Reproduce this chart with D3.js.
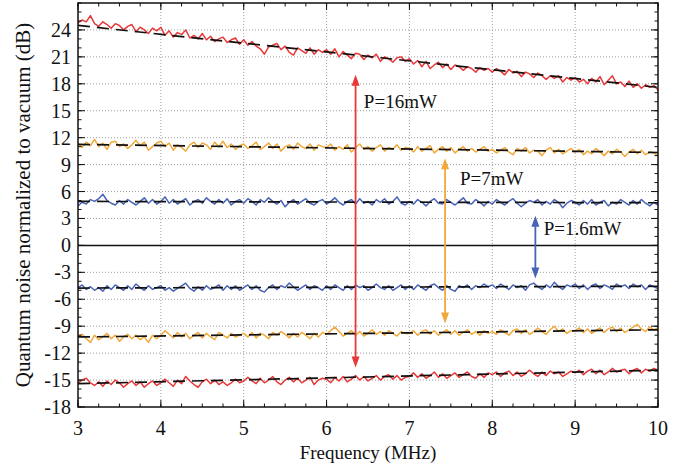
<!DOCTYPE html>
<html>
<head>
<meta charset="UTF-8">
<title>Quantum noise vs frequency</title>
<script src="https://d3js.org/d3.v7.min.js"></script>
<style>
  body { margin: 0; background: #fff; }
  text { font-family: "Liberation Serif", "DejaVu Serif", serif; fill: #111; }
</style>
</head>
<body>
<svg id="chart"></svg>
<script>
// traces sampled every 0.05 MHz from 3 to 10 MHz (141 points each)
const F_START = 3, F_STEP = 0.05;

const redUpper = [
  24.8, 25.1, 24.9, 25.6, 24.7, 24.4, 24.9, 24.6, 24.2, 24.7, 24.5, 24.0, 24.4, 24.6, 23.8, 24.3, 24.0, 23.6, 24.2, 23.9,
  24.3, 23.4, 23.9, 23.2, 23.7, 23.5, 24.0, 23.1, 23.4, 23.0, 23.6, 22.9, 23.3, 22.7, 23.0, 23.2, 22.6, 22.9, 23.1, 22.4,
  22.9, 22.3, 22.7, 22.2, 21.9, 21.3, 22.1, 22.3, 22.5, 21.8, 22.2, 21.5, 21.2, 22.0, 21.7, 21.4, 22.0, 21.3, 21.8, 21.5,
  21.8, 21.3, 21.9, 21.0, 21.6, 21.2, 20.8, 21.4, 21.3, 20.7, 21.2, 20.9, 21.3, 20.5, 21.0, 20.8, 20.4, 20.9, 21.0, 20.5,
  20.8, 20.2, 20.6, 19.9, 20.5, 19.7, 20.1, 20.4, 19.8, 20.2, 19.6, 20.1, 19.9, 19.5, 19.9, 19.7, 19.3, 19.8, 19.5, 19.7,
  19.3, 19.7, 19.4, 19.0, 19.6, 19.2, 19.4, 18.8, 19.3, 19.1, 18.7, 19.2, 18.9, 18.5, 18.9, 18.6, 18.9, 18.2, 18.7, 18.4,
  18.7, 18.2, 18.5, 18.0, 18.6, 18.2, 18.8, 17.9, 18.4, 18.9, 18.0, 18.2, 17.7, 18.3, 17.6, 18.0, 17.5, 17.9, 17.6, 17.8, 17.3
];
const orangeUpper = [
  11.4, 10.9, 11.5, 11.1, 11.8, 11.0, 11.4, 10.7, 11.5, 11.6, 11.0, 11.3, 10.8, 11.2, 11.7, 11.1, 11.5, 10.6, 11.0, 11.4,
  11.6, 11.0, 11.4, 10.6, 11.2, 10.9, 10.5, 11.2, 11.5, 10.9, 11.4, 11.2, 10.7, 11.5, 11.0, 11.6, 10.9, 11.3, 10.7, 11.1,
  11.3, 10.8, 11.1, 11.5, 10.7, 11.0, 11.4, 10.8, 11.3, 10.5, 11.0, 11.2, 10.7, 11.4, 11.0, 10.8, 11.3, 10.6, 11.2, 11.0,
  10.9, 11.3, 10.6, 11.0, 10.7, 11.2, 10.4, 10.9, 11.3, 10.7, 11.0, 10.5, 10.9, 11.2, 10.5, 10.9, 10.7, 11.2, 10.6, 10.9,
  10.8, 10.4, 11.0, 10.5, 10.8, 11.1, 10.3, 10.7, 11.0, 10.5, 10.9, 10.3, 10.7, 11.0, 10.5, 10.8, 10.4, 10.7, 11.0, 10.5,
  10.7, 10.3, 10.6, 10.9, 10.4, 10.1, 10.8, 10.5, 10.9, 10.3, 10.6, 10.5, 10.0, 10.6, 10.9, 10.3, 10.7, 10.2, 10.5, 10.8,
  10.4, 10.7, 10.1, 10.5, 10.2, 10.8, 10.4, 10.0, 10.5, 10.2, 10.7, 10.4, 9.9, 10.4, 10.7, 10.2, 10.6, 10.1, 10.4, 10.3, 10.0
];
const blueUpper = [
  4.4, 4.8, 4.6, 5.1, 4.9, 5.2, 5.7, 5.0, 4.7, 4.5, 5.0, 4.6, 5.1, 4.8, 4.5, 4.9, 5.3, 4.7, 5.1, 4.6,
  4.9, 5.4, 4.7, 5.1, 4.6, 4.9, 5.2, 4.5, 4.9, 5.1, 4.7, 5.3, 4.9, 4.6, 5.1, 4.7, 5.2, 4.5, 4.9, 5.1,
  4.7, 5.2, 4.9, 4.5, 5.1, 4.8, 5.3, 4.9, 4.6, 5.0, 4.3, 4.8, 5.1, 4.6, 4.9, 5.2, 4.7, 4.5, 4.9, 5.1,
  4.6, 4.9, 5.3, 4.8, 4.5, 4.9, 5.1, 4.6, 5.2, 4.7, 4.9, 4.5, 5.1, 4.8, 5.2, 4.6, 4.9, 5.4, 4.7, 4.5,
  4.9, 4.6, 5.1, 4.8, 4.4, 4.9, 5.2, 4.7, 4.6, 5.1, 4.8, 4.5, 4.9, 5.3, 4.7, 4.6, 5.1, 4.8, 4.4, 4.9,
  4.6, 5.1, 4.8, 4.5, 4.9, 5.2, 4.7, 4.3, 4.7, 5.0, 4.8, 5.1, 4.5, 4.9, 4.6, 5.1, 4.8, 4.2, 4.7, 5.0,
  4.8, 4.5, 5.0, 4.6, 5.1, 4.5, 4.8, 5.0, 4.4, 4.8, 4.6, 5.1, 4.8, 4.5, 5.0, 4.6, 5.1, 4.7, 4.4, 4.8, 4.5
];
const blueLower = [
  -4.7, -4.4, -4.9, -4.6, -5.0, -4.7, -5.1, -4.5, -4.9, -4.4, -4.7, -5.0, -4.5, -4.9, -4.3, -4.7, -5.0, -4.5, -4.9, -4.7,
  -4.5, -5.0, -4.7, -5.1, -4.8, -4.5, -4.2, -4.8, -5.1, -4.6, -5.0, -4.5, -4.9, -4.7, -4.4, -5.0, -4.5, -4.9, -4.5, -5.0,
  -4.7, -4.4, -4.9, -4.5, -5.0, -5.2, -4.7, -4.4, -4.9, -4.5, -4.7, -4.2, -4.6, -5.0, -4.7, -4.4, -4.9, -4.5, -4.7, -5.0,
  -4.5, -4.9, -4.4, -4.7, -5.0, -4.5, -4.9, -4.4, -4.7, -4.5, -5.0, -4.7, -4.3, -4.7, -4.9, -4.5, -5.0, -4.7, -4.4, -4.9,
  -4.5, -4.9, -4.4, -4.7, -5.0, -4.5, -4.3, -4.7, -5.0, -4.5, -4.9, -5.1, -4.5, -4.7, -4.4, -4.9, -4.5, -4.7, -4.3, -4.6,
  -4.4, -4.8, -4.3, -4.6, -4.9, -4.4, -4.7, -4.5, -5.0, -4.4, -4.2, -4.6, -4.9, -4.4, -4.7, -4.1, -4.6, -4.9, -4.4, -4.6,
  -4.3, -4.8, -4.4, -4.9, -4.5, -4.3, -4.8, -4.4, -4.6, -4.9, -4.3, -4.6, -4.4, -4.8, -4.3, -4.6, -4.4, -4.9, -4.4, -4.6, -4.8
];
const orangeLower = [
  -10.2, -9.9, -10.4, -10.8, -10.0, -10.5, -10.2, -9.8, -10.4, -10.0, -10.7, -10.2, -9.9, -10.4, -10.0, -10.5, -10.2, -10.8, -10.0, -10.4,
  -10.0, -9.5, -9.9, -10.3, -9.7, -10.2, -9.8, -10.4, -10.0, -9.7, -10.3, -9.8, -10.2, -10.5, -9.7, -10.0, -10.3, -9.8, -10.2, -10.0,
  -9.8, -10.2, -9.7, -10.3, -9.8, -10.0, -10.4, -9.7, -10.0, -9.6, -9.9, -10.3, -9.8, -10.2, -9.7, -10.0, -10.4, -9.8, -10.2, -9.7,
  -9.9, -9.5, -9.1, -9.6, -10.1, -9.8, -9.5, -10.0, -9.6, -10.1, -9.8, -9.4, -9.9, -9.6, -10.0, -9.5, -9.8, -10.1, -9.6, -9.8,
  -9.8, -9.5, -10.0, -9.6, -9.4, -9.9, -9.5, -10.0, -9.7, -9.4, -9.9, -9.5, -10.0, -9.7, -9.4, -9.9, -9.6, -10.0, -9.5, -9.8,
  -9.6, -9.9, -9.4, -9.7, -10.0, -9.5, -9.3, -9.8, -9.4, -9.9, -9.6, -9.2, -9.6, -9.9, -9.4, -9.0, -9.6, -9.3, -9.8, -9.5,
  -9.5, -9.2, -9.7, -9.3, -9.8, -9.5, -9.2, -9.7, -9.3, -9.1, -9.6, -9.2, -9.7, -9.4, -9.1, -8.8, -9.3, -9.6, -9.1, -9.4, -9.2
];
const redLower = [
  -15.3, -15.0, -14.8, -15.3, -15.6, -15.2, -15.7, -15.1, -15.5, -15.0, -15.3, -15.8, -15.4, -15.1, -15.6, -15.2, -15.8, -15.4, -15.1, -15.6,
  -15.3, -14.9, -15.3, -15.7, -15.0, -15.4, -14.6, -15.1, -15.5, -15.8, -15.2, -14.9, -15.4, -15.0, -15.5, -15.2, -15.6, -15.3, -14.9, -15.3,
  -15.1, -14.7, -15.1, -15.4, -14.8, -15.3, -15.0, -14.6, -15.2, -15.5, -15.0, -14.7, -15.2, -14.8, -15.3, -15.0, -14.7, -15.5, -15.0, -14.8,
  -14.9, -15.3, -14.7, -15.1, -14.6, -15.2, -14.9, -14.5, -15.0, -14.6, -15.1, -14.8, -14.5, -15.0, -14.6, -14.4, -14.9, -14.5, -15.0, -14.7,
  -14.6, -14.2, -14.7, -14.3, -14.8, -14.5, -14.1, -14.7, -14.3, -14.8, -14.5, -14.2, -14.7, -14.4, -14.1, -14.6, -14.8, -14.3, -14.7, -14.2,
  -14.4, -14.1, -14.6, -14.2, -14.0, -14.5, -14.1, -14.6, -14.3, -13.9, -14.3, -14.6, -14.1, -14.5, -14.0, -14.3, -14.1, -14.6, -14.3, -14.0,
  -14.2, -13.9, -14.4, -14.0, -13.8, -14.3, -13.9, -14.4, -14.1, -13.7, -14.1, -13.9, -13.8, -14.3, -13.9, -13.7, -14.2, -13.8, -14.0, -13.7, -13.9
];

// straight fit lines: value at 3 MHz and at 10 MHz
const fitStart = [24.5, 11.25, 4.9, -4.75, -10.2, -15.4];
const fitEnd   = [17.6, 10.35, 4.75, -4.55, -9.4, -13.9];

const traces = [redUpper, orangeUpper, blueUpper, blueLower, orangeLower, redLower];
const traceColors = ["#e8383a", "#f2a93b", "#4a64b5", "#4a64b5", "#f2a93b", "#e8383a"];

// double arrows and their labels
const arrowFreq   = [6.35, 7.43, 8.52];
const arrowTop    = [19.0, 9.7, 3.3];
const arrowBottom = [-13.6, -8.7, -3.7];
const arrowColors = ["#e8383a", "#f2a93b", "#4a64b5"];
const labelText = ["P=16mW", "P=7mW", "P=1.6mW"];
const labelFreq = [6.45, 7.61, 8.62];
const labelDb   = [16.1, 7.45, 1.9];

const xTicks = [3, 4, 5, 6, 7, 8, 9, 10];
const yTicks = [-18, -15, -12, -9, -6, -3, 0, 3, 6, 9, 12, 15, 18, 21, 24];

const W = 697, H = 470;
const margin = {top: 3, right: 39, bottom: 63, left: 78};
const iw = W - margin.left - margin.right;
const ih = H - margin.top - margin.bottom;

const svg = d3.select("#chart").attr("width", W).attr("height", H);
const g = svg.append("g").attr("transform", `translate(${margin.left},${margin.top})`);

const x = d3.scaleLinear().domain([3, 10]).range([0, iw]);
const y = d3.scaleLinear().domain([-18, 27]).range([ih, 0]);

// grid
g.append("g").selectAll("line").data(xTicks.slice(1, -1)).join("line")
  .attr("x1", d => x(d)).attr("x2", d => x(d)).attr("y1", 0).attr("y2", ih)
  .attr("stroke", "#888").attr("stroke-width", 0.8).attr("stroke-dasharray", "1,2");
g.append("g").selectAll("line").data(yTicks.filter(d => d !== 0 && d !== -18)).join("line")
  .attr("x1", 0).attr("x2", iw).attr("y1", d => y(d)).attr("y2", d => y(d))
  .attr("stroke", "#888").attr("stroke-width", 0.8).attr("stroke-dasharray", "1,2");

// zero line
g.append("line").attr("x1", 0).attr("x2", iw).attr("y1", y(0)).attr("y2", y(0))
  .attr("stroke", "#111").attr("stroke-width", 1.5);

// noisy traces
const line = d3.line().x((d, i) => x(F_START + i * F_STEP)).y(d => y(d));
traces.forEach((t, k) => {
  g.append("path").datum(t).attr("d", line)
    .attr("fill", "none").attr("stroke", traceColors[k]).attr("stroke-width", 1.5)
    .attr("stroke-linejoin", "round");
});

// dashed fits
fitStart.forEach((s, k) => {
  g.append("line")
    .attr("x1", x(3)).attr("y1", y(s)).attr("x2", x(10)).attr("y2", y(fitEnd[k]))
    .attr("stroke", "#111").attr("stroke-width", 1.7).attr("stroke-dasharray", "12,7");
});

// arrows
arrowFreq.forEach((f, k) => {
  const ax = x(f), y1 = y(arrowTop[k]), y2 = y(arrowBottom[k]);
  const hl = 11, hw = 4;
  g.append("line").attr("x1", ax).attr("x2", ax).attr("y1", y1 + hl - 2).attr("y2", y2 - hl + 2)
    .attr("stroke", arrowColors[k]).attr("stroke-width", 1.8);
  g.append("path").attr("d", `M${ax},${y1} L${ax - hw},${y1 + hl} L${ax + hw},${y1 + hl} Z`)
    .attr("fill", arrowColors[k]);
  g.append("path").attr("d", `M${ax},${y2} L${ax - hw},${y2 - hl} L${ax + hw},${y2 - hl} Z`)
    .attr("fill", arrowColors[k]);
  g.append("text").attr("x", x(labelFreq[k])).attr("y", y(labelDb[k]))
    .attr("dy", "0.35em").attr("font-size", 19).text(labelText[k]);
});

// frame
g.append("rect").attr("width", iw).attr("height", ih)
  .attr("fill", "none").attr("stroke", "#111").attr("stroke-width", 1.5);

// ticks, inward on all sides
const xMinor = d3.range(3, 10.001, 0.25);
const yMinor = d3.range(-18, 27.001, 1);
const tickSet = (vals, len, horiz) => {
  vals.forEach(v => {
    if (horiz) {
      g.append("line").attr("x1", x(v)).attr("x2", x(v)).attr("y1", ih).attr("y2", ih - len).attr("stroke", "#111");
      g.append("line").attr("x1", x(v)).attr("x2", x(v)).attr("y1", 0).attr("y2", len).attr("stroke", "#111");
    } else {
      g.append("line").attr("y1", y(v)).attr("y2", y(v)).attr("x1", 0).attr("x2", len).attr("stroke", "#111");
      g.append("line").attr("y1", y(v)).attr("y2", y(v)).attr("x1", iw).attr("x2", iw - len).attr("stroke", "#111");
    }
  });
};
tickSet(xMinor, 3.5, true);
tickSet(xTicks, 7, true);
tickSet(yMinor, 3.5, false);
tickSet(yTicks, 7, false);

// tick labels
g.append("g").selectAll("text").data(xTicks).join("text")
  .attr("x", d => x(d)).attr("y", ih + 28).attr("text-anchor", "middle")
  .attr("font-size", 20).text(d => d);
g.append("g").selectAll("text").data(yTicks).join("text")
  .attr("x", -7).attr("y", d => y(d)).attr("dy", "0.35em").attr("text-anchor", "end")
  .attr("font-size", 20).text(d => d);

// axis titles
svg.append("text").attr("x", margin.left + iw / 2).attr("y", 459)
  .attr("text-anchor", "middle").attr("font-size", 19).text("Frequency (MHz)");
svg.append("text").attr("transform", `translate(30,${margin.top + ih / 2}) rotate(-90)`)
  .attr("text-anchor", "middle").attr("font-size", 21)
  .text("Quantum noise normalized to vacuum (dB)");
</script>
</body>
</html>
